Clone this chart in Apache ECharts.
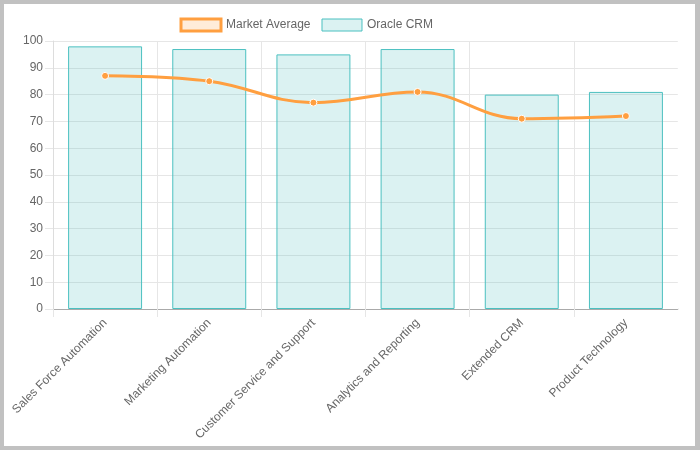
<!DOCTYPE html>
<html>
<head>
<meta charset="utf-8">
<script src="https://cdn.jsdelivr.net/npm/echarts@6/dist/echarts.min.js"></script>
<style>
  html, body { margin: 0; padding: 0; background: #c1c1c1; }
  #bg { position: absolute; left: 4px; top: 4px; width: 691px; height: 442px; background: #ffffff; }
  #chart { position: absolute; left: 0; top: 0; width: 700px; height: 450px; }
</style>
</head>
<body>
<div id="bg"></div>
<div id="chart"></div>
<script>
const categories = ['Sales Force Automation', 'Marketing Automation', 'Customer Service and Support', 'Analytics and Reporting', 'Extended CRM', 'Product Technology'];
const oracleCRM = [98, 97, 95, 97, 80, 81];
const marketAverage = [87, 85, 77, 81, 71, 72];
const yTicks = { min: 0, max: 100, interval: 10 };

const font = 'Liberation Sans, Arial, Helvetica, sans-serif';
const chart = echarts.init(document.getElementById('chart'), null, { renderer: 'canvas' });
chart.setOption({
  backgroundColor: 'transparent',
  animation: false,
  textStyle: { fontFamily: font },
  legend: {
    left: 179.5, top: 17.5, padding: 0,
    itemWidth: 40, itemHeight: 12, itemGap: 11,
    textStyle: { color: '#666', fontSize: 12, fontFamily: font },
    data: [
      { name: 'Market Average', icon: 'rect', itemStyle: { color: 'rgba(255,159,64,0.2)', borderColor: 'rgb(255,159,64)', borderWidth: 3 } },
      { name: 'Oracle CRM', icon: 'rect', itemStyle: { color: 'rgba(75,192,192,0.2)', borderColor: 'rgb(75,192,192)', borderWidth: 1 } }
    ]
  },
  grid: { left: 53, right: 22, top: 41, bottom: 141, containLabel: false },
  xAxis: {
    type: 'category',
    data: categories,
    boundaryGap: true,
    axisLine: { show: true, lineStyle: { color: '#aaaaaa', width: 1 } },
    axisTick: { show: true, length: 8, lineStyle: { color: '#e6e6e6' } },
    splitLine: { show: true, lineStyle: { color: '#e6e6e6' } },
    axisLabel: { rotate: 45, margin: 12, color: '#666', fontSize: 12, fontFamily: font, interval: 0 }
  },
  yAxis: {
    type: 'value',
    min: yTicks.min, max: yTicks.max, interval: yTicks.interval,
    axisLine: { show: true, lineStyle: { color: '#dddddd' } },
    axisTick: { show: true, length: 8, lineStyle: { color: '#e6e6e6' } },
    splitLine: { show: true, lineStyle: { color: '#e6e6e6' } },
    axisLabel: { margin: 10, color: '#666', fontSize: 12, fontFamily: font }
  },
  graphic: [
    { type: 'rect', z: 100, silent: true, shape: { x: 677.8, y: 38, width: 2, height: 270.5 }, style: { fill: '#ffffff' } },
    { type: 'rect', z: 100, silent: true, shape: { x: 677.8, y: 309.6, width: 2, height: 10 }, style: { fill: '#ffffff' } }
  ],
  series: [
    {
      name: 'Market Average',
      type: 'line',
      data: marketAverage,
      smooth: 0.4,
      z: 5,
      symbol: 'circle',
      symbolSize: 7,
      lineStyle: { color: 'rgb(255,159,64)', width: 3 },
      itemStyle: { color: 'rgb(255,159,64)', borderColor: '#ffffff', borderWidth: 1 }
    },
    {
      name: 'Oracle CRM',
      type: 'bar',
      data: oracleCRM,
      barWidth: '71%',
      z: 2,
      itemStyle: { color: 'rgba(75,192,192,0.2)', borderColor: 'rgb(75,192,192)', borderWidth: 1 }
    }
  ]
});
</script>
</body>
</html>
